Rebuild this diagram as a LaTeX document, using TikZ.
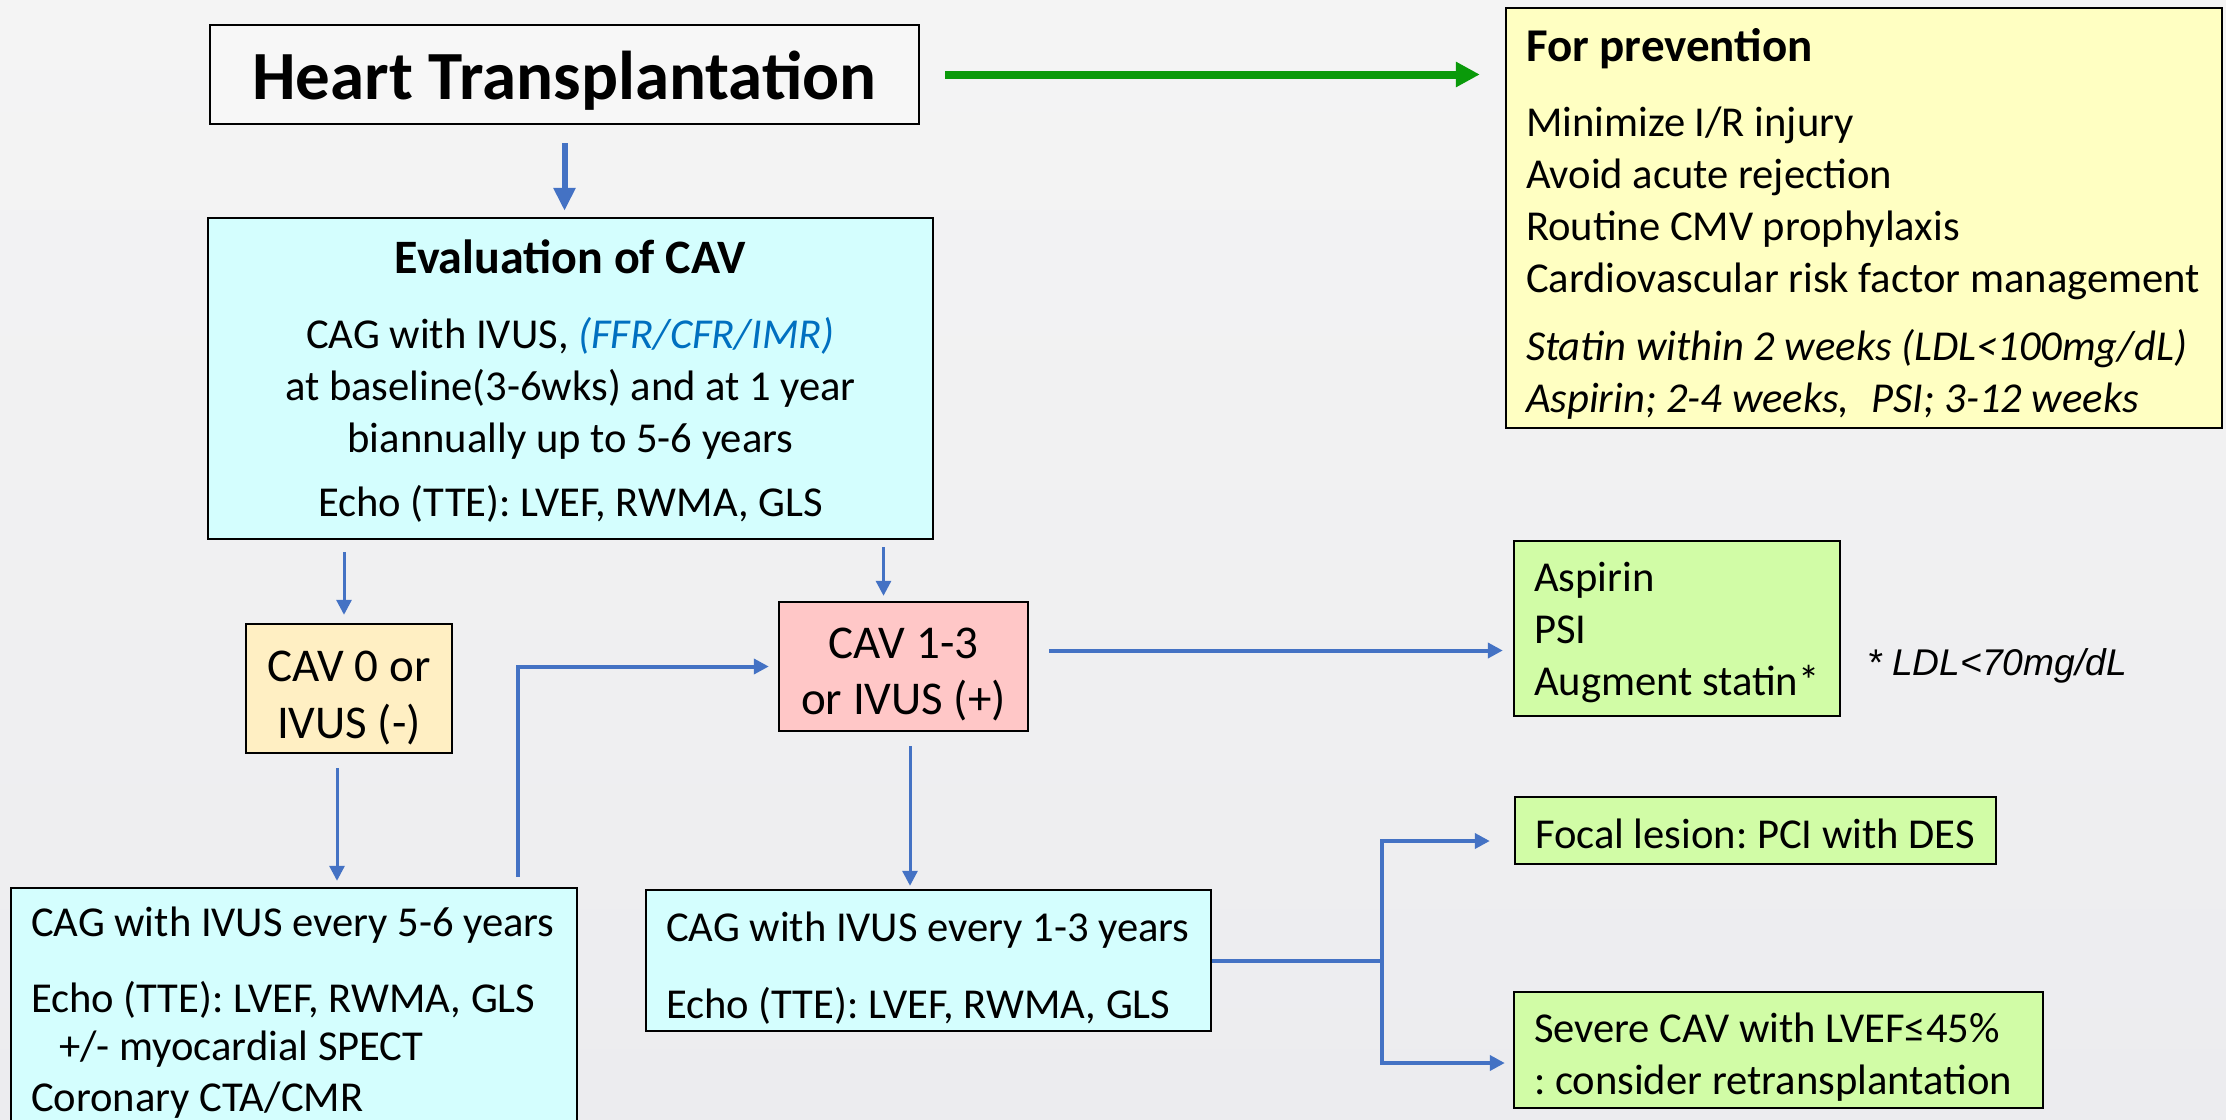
\documentclass[tikz,border=0pt]{standalone}
\usepackage{fontspec}
\setmainfont{Carlito}
\newfontfamily\arialf{Liberation Sans}
\usetikzlibrary{arrows.meta,calc}
\definecolor{bgtop}{HTML}{F4F4F4}
\definecolor{bgbot}{HTML}{ECECEF}
\definecolor{htfill}{HTML}{F7F7F7}
\definecolor{cyanbox}{HTML}{D4FEFE}
\definecolor{yellowbox}{HTML}{FFFFC2}
\definecolor{orangebox}{HTML}{FFEFC3}
\definecolor{pinkbox}{HTML}{FFC7C7}
\definecolor{greenbox}{HTML}{D1FCA6}
\definecolor{lineblue}{HTML}{4472C4}
\definecolor{arrgreen}{HTML}{0A9A0A}
\definecolor{ffrblue}{HTML}{0070C0}
% text block: shift, width, content
\newcommand\tbl[3]{\raisebox{#1}[\height][\depth]{\parbox{#2}{\raggedright\leftskip=10pt\relax #3\par}}}
\newcommand\tbc[3]{\raisebox{#1}[\height][\depth]{\parbox{#2}{\centering #3\par}}}
\tikzset{
  box/.style={draw=black, line width=1.2pt, inner sep=0pt, font=\frenchspacing\fontsize{21.3}{26}\selectfont},
  arr/.style={draw=lineblue, line width=1.5pt, -{Triangle[length=7.5pt,width=7.5pt]}},
  arrthick/.style={draw=lineblue, line width=2pt, -{Triangle[length=7.5pt,width=7.5pt]}},
  bigarr/.style={draw=lineblue, line width=3pt, -{Triangle[length=11.5pt,width=10.5pt]}},
  bline/.style={draw=lineblue, line width=2pt},
  garr/.style={draw=arrgreen, line width=4pt, -{Triangle[length=12pt,width=12pt]}},
}
\begin{document}
\begin{tikzpicture}[x=0.5pt,y=-0.5pt]
\useasboundingbox (0,0) rectangle (2226,1119);
\shade[top color=bgtop, bottom color=bgbot] (0,0) rectangle (2226,1119);

% nodes
\node[box, fill=htfill, minimum width=354.5pt, minimum height=49.5pt,
      font=\bfseries\fontsize{34.5}{40}\selectfont] (ht) at (564.5,74.5)
  {\raisebox{-3pt}[\height][\depth]{Heart Transplantation}};

\node[box, fill=cyanbox, minimum width=362.5pt, minimum height=160.5pt] (eval) at (570.5,378.5)
  {\tbc{-1.5pt}{362.5pt}{{\bfseries\fontsize{24}{26}\selectfont Evaluation of CAV}\\[11.5pt]
   CAG with IVUS, {\color{ffrblue}\itshape (FFR/CFR/IMR)}\\
   at baseline(3-6wks) and at 1 year\\
   biannually up to 5-6 years\\[6pt]
   Echo (TTE): LVEF, RWMA, GLS}};

\node[box, fill=yellowbox, minimum width=358pt, minimum height=210pt] (prev) at (1864,218)
  {\tbl{-3pt}{358pt}{{\bfseries\fontsize{23.5}{26}\selectfont For prevention}\\[11.5pt]
   Minimize I/R injury\\
   Avoid acute rejection\\
   Routine CMV prophylaxis\\
   Cardiovascular risk factor management\\[8pt]
   \itshape Statin within 2 weeks (LDL<100mg/dL)\\
   Aspirin; 2-4 weeks,\hspace{11pt}PSI; 3-12 weeks}};

\node[box, fill=orangebox, minimum width=103pt, minimum height=64.5pt,
      font=\frenchspacing\fontsize{23.5}{28.5}\selectfont] (cav0) at (349,688.5)
  {\tbc{-4.5pt}{103pt}{CAV 0 or\\ IVUS (-)}};

\node[box, fill=pinkbox, minimum width=124.5pt, minimum height=64.5pt,
      font=\frenchspacing\fontsize{23.5}{28}\selectfont] (cav13) at (903.5,666.5)
  {\tbc{-4pt}{124.5pt}{CAV 1-3\\ or IVUS (+)}};

\node[box, fill=greenbox, minimum width=163pt, minimum height=87.5pt] (asp) at (1677,628.5)
  {\tbl{-1.75pt}{163pt}{Aspirin\\ PSI\\ Augment statin*}};

\node[anchor=west, inner sep=0pt, font=\arialf\itshape\fontsize{18.6}{20}\selectfont] (ldl) at (1867,666)
  {* LDL<70mg/dL};

\node[box, fill=cyanbox, minimum width=283pt, minimum height=124.5pt,
      font=\frenchspacing\fontsize{21.3}{25.5}\selectfont] (bl) at (294,1012.5)
  {\tbl{0pt}{283pt}{CAG with IVUS every 5-6 years\\[12.5pt]
   Echo (TTE): LVEF, RWMA, GLS\\[-1.5pt]
   \hspace*{14pt}+/- myocardial SPECT\\
   Coronary CTA/CMR}};

\node[box, fill=cyanbox, minimum width=282.5pt, minimum height=70.5pt] (bm) at (928.5,960.5)
  {\tbl{-3.75pt}{282.5pt}{CAG with IVUS every 1-3 years\\[12.5pt]
   Echo (TTE): LVEF, RWMA, GLS}};

\node[box, fill=greenbox, minimum width=240.5pt, minimum height=33.5pt] (focal) at (1755.5,830.5)
  {\tbl{-1.5pt}{240.5pt}{Focal lesion: PCI with DES}};

\node[box, fill=greenbox, minimum width=264.5pt, minimum height=58pt,
      font=\frenchspacing\fontsize{21.3}{26.3}\selectfont] (severe) at (1778.5,1050)
  {\tbl{-3.5pt}{264.5pt}{Severe CAV with LVEF≤45\%\\ : consider retransplantation}};

% helper coordinates
\coordinate (a1) at ([xshift=-2.5pt]cav0.north);
\coordinate (a2) at ([xshift=-10pt]cav13.north);
\coordinate (a3) at ([xshift=-6pt]cav0.south);
\coordinate (a4) at ([xshift=254pt]bl.north west);
\coordinate (a5) at ([yshift=8pt]cav13.east);
\coordinate (a6) at ([xshift=3.25pt]cav13.south);
\coordinate (jn) at ([xshift=85pt]bm.east);
\coordinate (f1) at ([yshift=-5.25pt]focal.west);
\coordinate (s1) at ([yshift=-6.5pt]severe.west);

% connectors
\draw[garr, shorten <=12.5pt, shorten >=12.5pt] (ht.east) -- (ht.east -| prev.west);
\draw[bigarr, shorten <=9pt, shorten >=3pt] (ht.south) -- (ht.south |- eval.north);
\draw[arr, shorten <=6pt, shorten >=4pt] (eval.south -| a1) -- (a1);
\draw[arr, shorten <=3.5pt, shorten >=2.5pt] (eval.south -| a2) -- (a2);
\draw[arr, shorten <=7pt, shorten >=3pt] (a3) -- (a3 |- bl.north);
\draw[arrthick, shorten <=5pt, shorten >=4.5pt] (a4) |- (cav13.west);
\draw[arrthick, shorten <=10pt, shorten >=5pt] (a5) -- (a5 -| asp.west);
\draw[arr, shorten <=7pt, shorten >=1.5pt] (a6) -- (a6 |- bm.north);
\draw[bline] (bm.east) -- (jn);
\draw[arrthick, shorten >=12pt] (jn) |- (f1);
\draw[arrthick, shorten >=4pt] (jn) |- (s1);
\end{tikzpicture}
\end{document}
